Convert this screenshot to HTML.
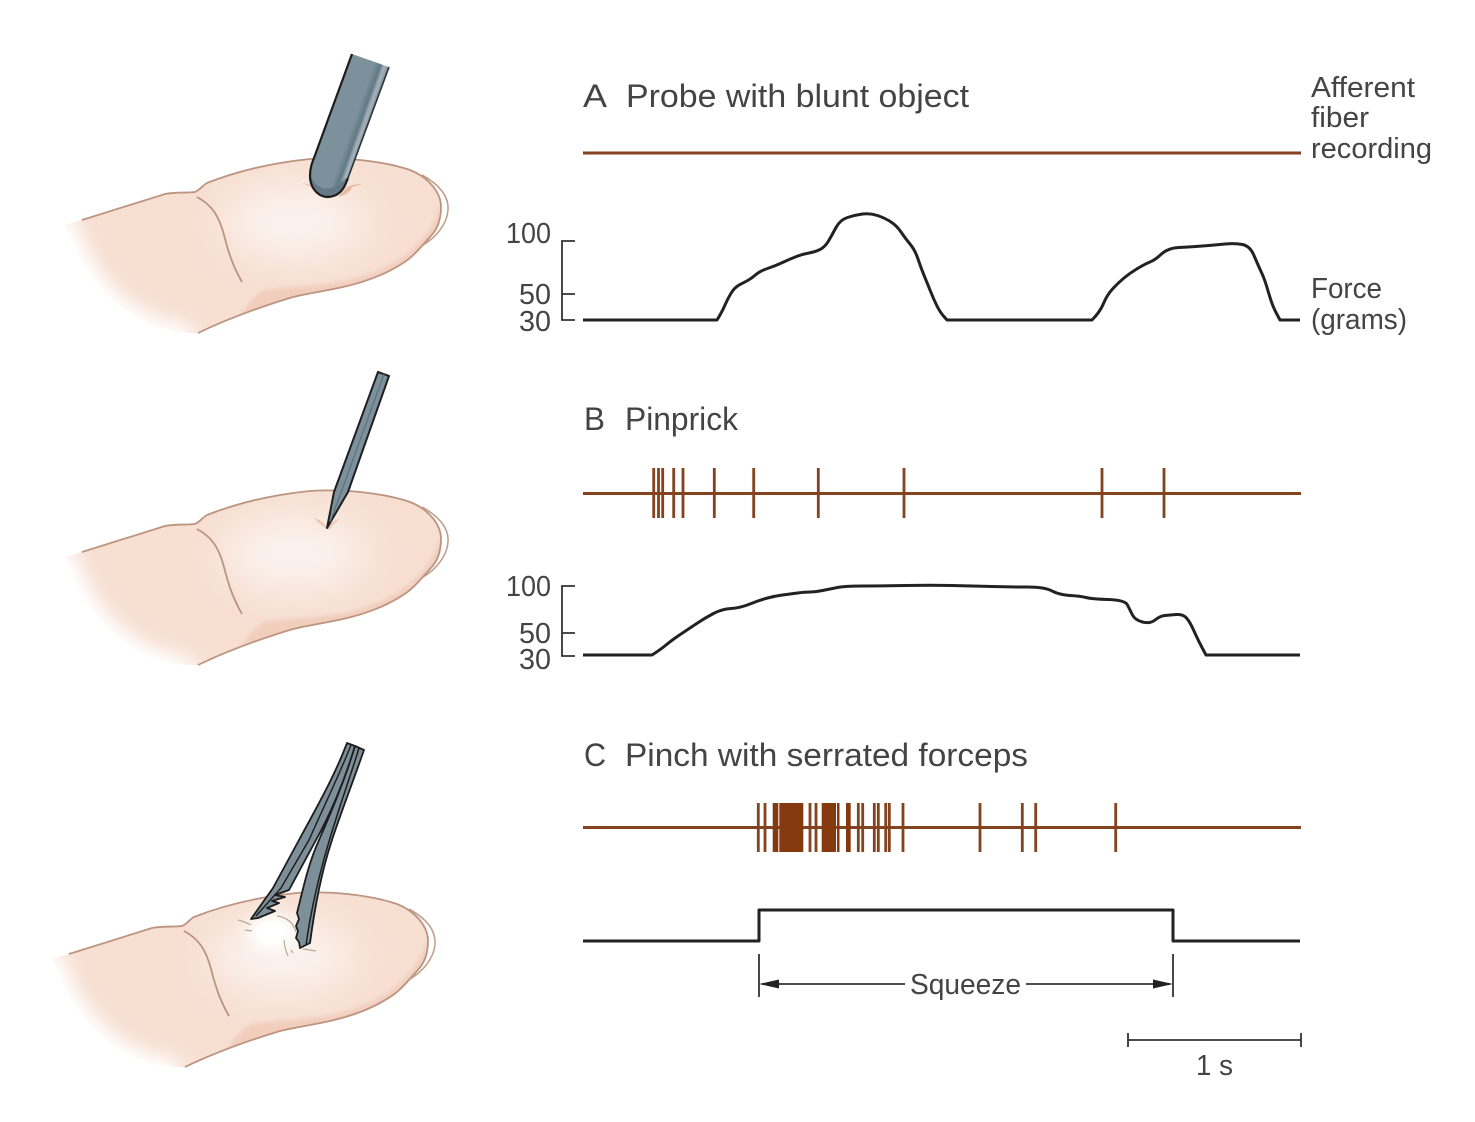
<!DOCTYPE html>
<html><head><meta charset="utf-8"><style>
html,body{margin:0;padding:0;background:#fff}
svg{display:block}
text{font-family:"Liberation Sans",sans-serif;font-size:29px;fill:#444}
.r{fill:none;stroke:#84421f;stroke-width:3}
.s{stroke:#84421f;stroke-width:2.800;fill:none}
.k{fill:none;stroke:#222;stroke-width:3;stroke-linejoin:round}
.a{fill:none;stroke:#333;stroke-width:1.800}
</style></head><body>
<svg width="1475" height="1122" viewBox="0 0 1475 1122" xmlns="http://www.w3.org/2000/svg">
<defs>
<linearGradient id="pg" gradientUnits="userSpaceOnUse" x1="352" y1="54" x2="389" y2="67">
<stop offset="0" stop-color="#7d919c"/><stop offset=".62" stop-color="#7d919c"/><stop offset=".78" stop-color="#637885"/><stop offset=".88" stop-color="#a6b4ba"/><stop offset="1" stop-color="#7d919c"/></linearGradient>
<filter id="b0" x="-20%" y="-20%" width="140%" height="140%"><feGaussianBlur stdDeviation="2"/></filter>
<filter id="b1" x="-50%" y="-50%" width="200%" height="200%"><feGaussianBlur stdDeviation="20"/></filter>
<filter id="b2" x="-50%" y="-50%" width="200%" height="200%"><feGaussianBlur stdDeviation="7"/></filter>
<filter id="b3" x="-50%" y="-50%" width="200%" height="200%"><feGaussianBlur stdDeviation="9"/></filter>
<clipPath id="fc"><path d="M82 220 L165 194 C175 192 188 193 195 192 C200 190 203 185 207 183 C235 172 270 163 310 159 C340 157 380 160 410 170 C428 177 441 192 441 207 C441 222 436 231 430 237 C420 248 413 257 403 263 C385 275 365 282 343 287 C325 291 310 293 293 297 C260 307 225 320 198 333 C150 335 90 300 66 225 Z"/></clipPath>
<g id="finger">
<path d="M422 175 C440 185 449 197 448 210 C447 225 435 238 423 245" fill="none" stroke="#c2a08e" stroke-width="1.600"/>
<g clip-path="url(#fc)">
<rect x="60" y="150" width="400" height="190" fill="#f7dfd2"/>
<ellipse cx="295" cy="222" rx="72" ry="36" fill="#fbf3ee" filter="url(#b1)"/>
<path d="M242 312 C250 303 256 294 265 290 C285 287 320 286 345 281 C370 276 395 265 412 250 C425 238 438 222 441 200 L450 300 L250 340 Z" fill="#f1cdbc" filter="url(#b0)"/>
<path d="M192 346 C130 338 78 300 56 222" fill="none" stroke="#fff" stroke-width="40" filter="url(#b3)"/>
</g>
<path d="M82 220 L165 194 C175 192 188 193 195 192 C200 190 203 185 207 183 C235 172 270 163 310 159 C340 157 380 160 410 170 C428 177 441 192 441 207 C441 222 436 231 430 237 C420 248 413 257 403 263 C385 275 365 282 343 287 C325 291 310 293 293 297 C260 307 225 320 198 333" fill="none" stroke="#bd9480" stroke-width="1.800"/>
<path d="M197 197 C212 205 219 216 224 235 C229 255 234 268 242 282" fill="none" stroke="#bd9480" stroke-width="1.800"/>
</g>
</defs>

<!-- fingers -->
<use href="#finger"/>
<use href="#finger" y="332"/>
<use href="#finger" x="-13" y="734"/>

<!-- probe -->
<path d="M302 183 Q312 184 318 190 Q310 186 302 183Z M362 184 Q352 184 347 187 L338 197 Q350 194 352 187 Q356 186 362 184Z" fill="#e9bba6"/>
<path d="M352 54 L389 67 L346 183 C342 193 335 197 327 197 C316 196 310 186 310 176 C310 168 312 163 314 158 Z" fill="url(#pg)"/>
<path d="M312 178 C316 190 332 194 346 178 L346 183 C342 193 335 197 327 197 C316 196 310 186 310 176Z" fill="#647986"/>
<path d="M352 54 L314 158 C312 163 310 168 310 176 C310 186 316 196 327 197 C335 197 342 193 346 183 L348 178" fill="none" stroke="#1d1d1d" stroke-width="2.200"/>
<path d="M348 178 L389 67" fill="none" stroke="#2b3338" stroke-width="1.600"/>

<!-- pin -->
<path d="M314 518 Q322 520 326 527 L328 528 Q332 520 340 519 Q333 523 330 529 Q324 529 314 518Z" fill="#edc5b2"/>
<path d="M378 372 L389 376 L348 492 L327 528 L334 492 Z" fill="#7d919c" stroke="#1f1f1f" stroke-width="2" stroke-linejoin="round"/>
<path d="M384 374 L342 490 L330 522" fill="none" stroke="#5e707a" stroke-width="1.200"/>

<!-- pinch -->
<ellipse cx="272" cy="932" rx="24" ry="18" fill="#fff" filter="url(#b2)"/>
<ellipse cx="271" cy="933" rx="15" ry="12" fill="#fff"/>
<g fill="none" stroke="#b9a69b" stroke-width="1.200">
<path d="M238 920 Q243 921 251 925"/><path d="M245 930 L252 931"/><path d="M277 916 Q292 918 296 932"/>
<path d="M284 940 Q285 950 288 956"/><path d="M291 950 L293 953"/><path d="M303 949 Q310 950 316 951"/>
</g>
<!-- left arm -->
<path d="M347 743 C335 775 318 805 299 840 L273 888 L251 919 L258 918 L275 911 L267 908 L279 903 L272 901 L285 897 L275 895 L289 890 L316 840 C330 815 345 780 355 746 Z" fill="#7d8f98" stroke="#1c1c1c" stroke-width="1.800" stroke-linejoin="round"/>
<path d="M351 745 C338 778 323 808 309 840 L281 888 L256 916" fill="none" stroke="#1c1c1c" stroke-width="1.400"/>
<!-- right arm -->
<path d="M355 746 L364 750 C350 790 340 815 332 840 C322 870 315 905 310 943 L300 948 L299 942 L296 938 L298 931 L296 926 L299 919 L297 913 L299 905 C305 880 310 860 319 840 C330 815 345 780 355 746Z" fill="#7d8f98" stroke="#1c1c1c" stroke-width="1.800" stroke-linejoin="round"/>
<path d="M359 748 C345 795 318 860 306 945" fill="none" stroke="#1c1c1c" stroke-width="1.500"/>

<!-- labels A -->
<text x="583" y="107" style="font-size:32px" textLength="24" lengthAdjust="spacingAndGlyphs">A</text>
<text x="626" y="107" style="font-size:32px" textLength="343" lengthAdjust="spacingAndGlyphs">Probe with blunt object</text>
<text x="1311" y="97" textLength="104" lengthAdjust="spacingAndGlyphs">Afferent</text>
<text x="1311" y="127" textLength="58" lengthAdjust="spacingAndGlyphs">fiber</text>
<text x="1311" y="158" textLength="121" lengthAdjust="spacingAndGlyphs">recording</text>
<text x="1311" y="298" textLength="71" lengthAdjust="spacingAndGlyphs">Force</text>
<text x="1311" y="329" textLength="96" lengthAdjust="spacingAndGlyphs">(grams)</text>
<path class="r" d="M583 153H1301"/>
<text x="506" y="243" textLength="45" lengthAdjust="spacingAndGlyphs">100</text>
<text x="519" y="304" textLength="32" lengthAdjust="spacingAndGlyphs">50</text>
<text x="519" y="331" textLength="32" lengthAdjust="spacingAndGlyphs">30</text>
<path class="a" d="M575 241H562V320H575M562 294H575"/>
<path class="k" d="M583 320H717Q722 312 725 305Q728 298 731.500 292.500Q735 287 740 284.500Q745 282 748.500 280Q752 278 756 274.500Q760 271 767.500 268.500Q775 266 782.500 262.500Q790 259 796.500 256.500Q803 254 809 253Q815 252 820 249.500Q825 247 828.500 241Q832 235 836 227.500Q840 220 847.500 217.500Q855 215 862.500 214Q870 213 877.500 215.500Q885 218 891 222Q897 226 901 232Q905 238 910 244Q915 250 918 259Q921 268 924.500 276.500Q928 285 931 292.500Q934 300 937 306Q940 312 943.500 316L947 320H1092Q1100 312 1103.500 303.500Q1107 295 1112.500 289Q1118 283 1124 278Q1130 273 1137.500 268.500Q1145 264 1150 262Q1155 260 1161.500 254Q1168 248 1179 247.500Q1190 247 1202.500 246Q1215 245 1225 244Q1235 243 1242.500 244.500Q1250 246 1254 255.500Q1258 265 1261.500 272.500Q1265 280 1268.500 292.500Q1272 305 1276 312.500L1280 320H1300"/>

<!-- B -->
<text x="584" y="430" style="font-size:32px" textLength="21" lengthAdjust="spacingAndGlyphs">B</text>
<text x="625" y="430" style="font-size:32px" textLength="113" lengthAdjust="spacingAndGlyphs">Pinprick</text>
<path class="r" d="M583 493.500H1301"/>
<path class="s" d="M653.700 468V518M658.500 468V518M662.700 468V518M673.700 468V518M683 468V518M714.300 468V518M753.700 468V518M818.300 468V518M904 468V518M1102 468V518M1164 468V518"/>
<text x="506" y="596" textLength="45" lengthAdjust="spacingAndGlyphs">100</text>
<text x="519" y="643" textLength="32" lengthAdjust="spacingAndGlyphs">50</text>
<text x="519" y="669" textLength="32" lengthAdjust="spacingAndGlyphs">30</text>
<path class="a" d="M575 586H562V656H575M562 633H575"/>
<path class="k" d="M583 655H652Q660 650 666 645Q672 640 681 634Q690 628 697.500 623Q705 618 713.500 613.500Q722 609 731 608.500Q740 608 750 604Q760 600 767.500 598Q775 596 782.500 595Q790 594 797.500 593Q805 592 810 592Q815 592 822.500 590.500Q830 589 837.500 587.500Q845 586 862 586Q880 586 905 585.500Q930 585 952 585.500Q975 586 992 586.500Q1010 587 1027 587Q1045 587 1052 591Q1060 595 1070 595.500Q1080 596 1086 597.500Q1092 599 1108 599.500Q1125 600 1127.500 605Q1130 610 1132.500 615Q1135 620 1142.500 622Q1150 624 1155 620Q1160 616 1165 615.500Q1170 615 1176.500 614.500Q1183 614 1186.500 618Q1190 622 1194 631Q1198 640 1202 647.500L1206 655H1300"/>

<!-- C -->
<text x="584" y="766" style="font-size:32px" textLength="22" lengthAdjust="spacingAndGlyphs">C</text>
<text x="625" y="766" style="font-size:32px" textLength="403" lengthAdjust="spacingAndGlyphs">Pinch with serrated forceps</text>
<path class="r" d="M583 827.500H1301"/>
<path class="s" d="M758.300 803V852M765 803V852M810 803V852M816 803V852M858.300 803V852M862.700 803V852M874.300 803V852M878.300 803V852M885.700 803V852M889.300 803V852M903 803V852M980 803V852M1022.300 803V852M1035.700 803V852M1115.700 803V852"/>
<g fill="#84390f">
<rect x="772.700" y="803" width="5.600" height="49"/><rect x="779.300" y="803" width="24" height="49"/>
<rect x="821.700" y="803" width="14.300" height="49"/><rect x="837" y="803" width="2.500" height="49"/>
<rect x="846" y="803" width="4.700" height="49"/>
</g>
<path class="k" d="M583 941H759V910H1173V941H1300"/>
<path d="M759 954V997M1173 954V997" stroke="#333" stroke-width="1.800"/>
<path class="a" d="M762 984H905M1026 984H1170"/>
<path d="M759 984L779 979.500V988.500ZM1173 984L1153 979.500V988.500Z" fill="#222"/>
<text x="910" y="994" textLength="111" lengthAdjust="spacingAndGlyphs">Squeeze</text>
<path class="a" d="M1128 1033V1047M1128 1040H1301M1301 1033V1047"/>
<text x="1196" y="1075" textLength="37" lengthAdjust="spacingAndGlyphs">1 s</text>
</svg>
</body></html>
